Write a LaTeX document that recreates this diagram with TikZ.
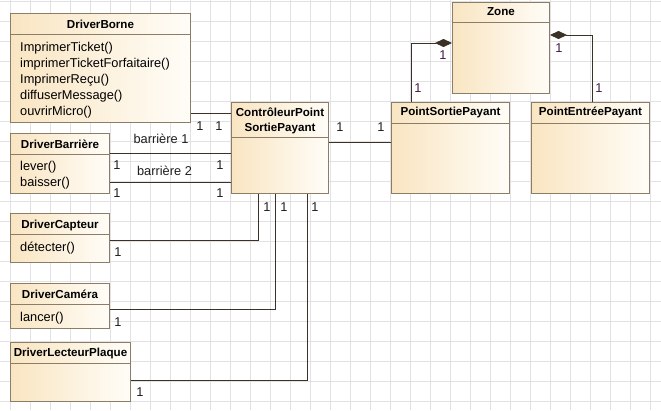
\documentclass[tikz,border=0pt]{standalone}
\usepackage{fontspec}
\setmainfont{Liberation Sans}
\usetikzlibrary{arrows.meta}
\definecolor{clsborder}{RGB}{140,126,102}
\definecolor{clsfill}{RGB}{249,229,194}
\definecolor{clsfillr}{RGB}{255,253,248}
\definecolor{assoc}{RGB}{58,50,38}
\definecolor{gridc}{RGB}{226,226,228}
\definecolor{multc}{RGB}{30,30,30}
\definecolor{multz}{RGB}{62,30,66}
\begin{document}
\begin{tikzpicture}
  [x=1pt,y=-1pt,
   cls/.style={draw=clsborder,line width=1pt,left color=clsfill,right color=clsfillr,inner sep=0pt,anchor=north west},
   ttl/.style={font=\bfseries\fontsize{11.6}{15}\selectfont,inner sep=0pt,anchor=north,align=center},
   ops/.style={font=\fontsize{12.8}{16}\selectfont,inner sep=0pt,anchor=north west,align=left},
   mul/.style={font=\fontsize{12.8}{15}\selectfont,inner sep=0pt,text=multc},
   mulz/.style={mul,text=multz},
   sepline/.style={draw=clsborder,line width=1pt},
   lnk/.style={draw=assoc,line width=0.9pt},
   comp/.style={lnk,-{Diamond[length=17pt,width=8pt,fill=assoc]}}]
\useasboundingbox (0,0) rectangle (661,410);
\fill[white] (0,0) rectangle (661,410);
% grille de fond
\foreach \gx in {10.5,30.5,...,650.5}
  \draw[gridc,line width=0.8pt] (\gx,0) -- (\gx,410);
\foreach \gy in {1,21,...,401}
  \draw[gridc,line width=0.8pt] (0,\gy) -- (661,\gy);

% classes
\node[cls,minimum width=180pt,minimum height=109pt] (borne) at (10,13) {};
\node[cls,minimum width=99pt,minimum height=60pt] (barr) at (10,133) {};
\node[cls,minimum width=97pt,minimum height=91pt] (ctrl) at (231,102) {};
\node[cls,minimum width=97pt,minimum height=91pt] (zone) at (452,2) {};
\node[cls,minimum width=118pt,minimum height=91pt] (psortie) at (391,102) {};
\node[cls,minimum width=118pt,minimum height=91pt] (pentree) at (531,102) {};
\node[cls,minimum width=99pt,minimum height=49pt] (capteur) at (10,213) {};
\node[cls,minimum width=99pt,minimum height=45pt] (camera) at (10,283) {};
\node[cls,minimum width=120pt,minimum height=59pt] (lecteur) at (10,342) {};

\foreach \n/\y in {borne/34,barr/154,ctrl/137,zone/22,psortie/123,pentree/123,capteur/234,camera/304,lecteur/363}
  \draw[sepline] (\n.west |- 0,\y) -- (\n.east |- 0,\y);

\node[ttl] (borneT) at (borne.north |- 0,19.5) {DriverBorne};
\node[ttl] (barrT) at (barr.north |- 0,139.5) {DriverBarrière};
\node[ttl] (ctrlT) at (ctrl.north |- 0,108) {ContrôleurPoint\\SortiePayant};
\node[ttl] (zoneT) at (zone.north |- 0,7.6) {Zone};
\node[ttl] (psortieT) at (psortie.north |- 0,107) {PointSortiePayant};
\node[ttl] (pentreeT) at (pentree.north |- 0,107) {PointEntréePayant};
\node[ttl] (capteurT) at (capteur.north |- 0,219.8) {DriverCapteur};
\node[ttl] (cameraT) at (camera.north |- 0,289.8) {DriverCaméra};
\node[ttl] (lecteurT) at (lecteur.north |- 0,347.6) {DriverLecteurPlaque};

\node[ops] (borneO) at (20,42.3) {ImprimerTicket()\\imprimerTicketForfaitaire()\\ImprimerReçu()\\diffuserMessage()\\ouvrirMicro()};
\node[ops] (barrO) at (20,161.3) {lever()\\baisser()};
\node[ops] (capteurO) at (20,241.8) {détecter()};
\node[ops] (cameraO) at (20,312.3) {lancer()};

% associations
\draw[lnk] (borne.east |- 0,113) -- (ctrl.west |- 0,113);
\draw[lnk] (barr.east |- 0,153) -- (ctrl.west |- 0,153);
\draw[lnk] (barr.east |- 0,182) -- (ctrl.west |- 0,182);
\draw[lnk] (ctrl.east |- 0,142) -- (psortie.west |- 0,142);
\draw[lnk] (capteur.east |- 0,240) -| (ctrl.south -| 258,0);
\draw[lnk] (camera.east |- 0,309) -| (ctrl.south -| 275,0);
\draw[lnk] (lecteur.east |- 0,380) -| (ctrl.south -| 307,0);
\draw[comp] (psortie.north -| 411,0) |- (zone.west |- 0,43);
\draw[comp] (pentree.north -| 592,0) |- (zone.east |- 0,35);

\node[mul] (lb1) at (161,139) {barrière 1};
\node[mul] (lb2) at (164.5,171) {barrière 2};
\foreach \mx/\my [count=\i] in {200/126,219/126,117/165,220/165,117/193,220/193,340/127,381/127,118/252,267/207,118/322,284/207,140/392,315/207}
  \node[mul] (m\i) at (\mx,\my) {1};
\foreach \mx/\my [count=\i] in {443/55,418/88,559/48,599/88}
  \node[mulz] (mz\i) at (\mx,\my) {1};
\end{tikzpicture}
\end{document}
